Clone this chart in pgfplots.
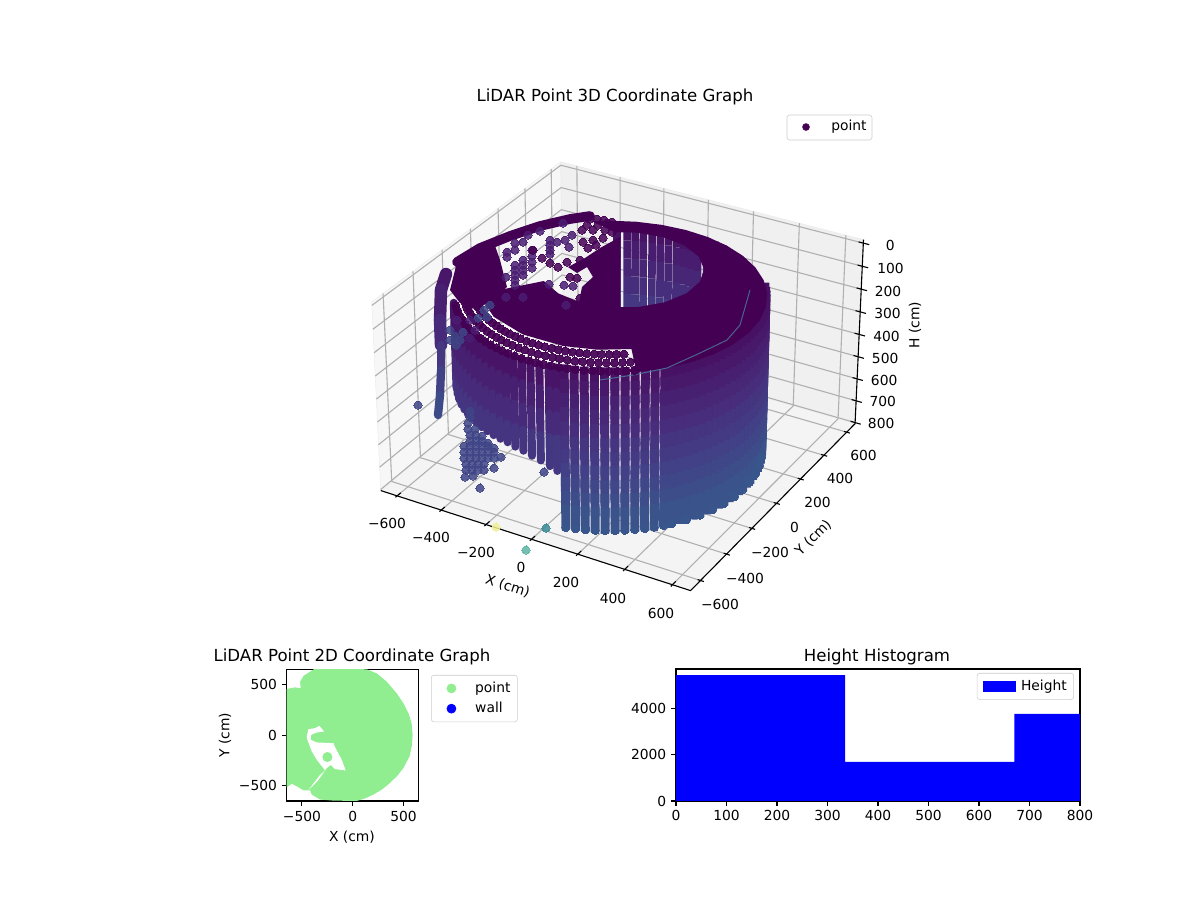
\documentclass[border=0pt]{standalone}
\usepackage{fontspec}
\setmainfont{DejaVu Sans}
\usepackage{pgfplots}
\pgfplotsset{compat=1.18}
\definecolor{dk}{HTML}{440154}
\definecolor{dk2}{HTML}{4A1D72}
\definecolor{mid}{HTML}{3F4586}
\definecolor{btm}{HTML}{39568C}
\definecolor{lg}{HTML}{90EE90}
\definecolor{yel}{HTML}{F0F09A}
\definecolor{tl1}{HTML}{5DB5A5}
\definecolor{tl2}{HTML}{3A8A96}
\definecolor{lb}{HTML}{4C7FA0}
\pgfplotsset{
 table/xyz/.style={row sep=crcr,x expr={prjx(\thisrow{X},\thisrow{Y},\thisrow{H})},y expr={prjy(\thisrow{X},\thisrow{Y},\thisrow{H})}},
 table/pol/.style={row sep=crcr,x expr={prjx(-55+\thisrow{r}*cos(\thisrow{t}),\thisrow{r}*sin(\thisrow{t}),\thisrow{H})},y expr={prjy(-55+\thisrow{r}*cos(\thisrow{t}),\thisrow{r}*sin(\thisrow{t}),\thisrow{H})}},
 table/polc/.style={row sep=crcr,x expr={prjx(\thisrow{c}+\thisrow{r}*cos(\thisrow{t}),\thisrow{r}*sin(\thisrow{t}),\thisrow{H})},y expr={prjy(\thisrow{c}+\thisrow{r}*cos(\thisrow{t}),\thisrow{r}*sin(\thisrow{t}),\thisrow{H})}},
 wc/.style={mesh,forget plot,line width=6.5pt,line cap=rect,point meta=\thisrow{H}},
 sc/.style={mesh,forget plot,line width=5.8pt,line cap=round,point meta=\thisrow{H}},
 bc/.style={mesh,forget plot,line width=5.5pt,line cap=butt,point meta=\thisrow{H}},
 gl/.style={forget plot,color=black!31,line width=0.8pt},
 ax/.style={forget plot,color=black,line width=0.8pt},
 m2/.style={tick align=outside,tick pos=left,major tick length=3.5pt,every tick/.style={black,line width=0.8pt},axis line style={line width=0.8pt},scale only axis,enlargelimits=false,
   legend style={draw=black!20,rounded corners=2pt,font=\fontsize{10}{12}\selectfont,inner xsep=3pt,inner ysep=3pt},legend cell align=left},
}
\newcommand{\W}[1]{\addplot[wc] table[pol]{t r H\\ #1 590 100\\ #1 590 160\\ #1 590 220\\ #1 590 280\\ #1 590 340\\ #1 590 400\\ #1 590 460\\ #1 590 520\\ #1 590 580\\ #1 590 640\\ #1 590 700\\ #1 590 770\\};}
\newcommand{\Sh}[2]{\addplot[sc] table[pol]{t r H\\ #1 590 100\\ #1 590 200\\ #1 590 300\\ #1 590 400\\ #1 590 #2\\};}
\newcommand{\Bk}[1]{\addplot[bc] table[pol]{t r H\\ #1 590 100\\ #1 590 180\\ #1 590 260\\ #1 590 340\\ #1 590 420\\ #1 590 500\\ #1 590 580\\};}
\newcommand{\GL}[2]{\addplot[#1] table[xyz]{X Y H\\ #2};}
\newcommand{\Beads}[2]{\addplot[only marks,forget plot,mark=*,mark size=2.9pt,mark options={draw=#1,line width=0pt,fill=#1,opacity=0.85}] table[row sep=crcr]{x y\\ #2};}
\newcommand{\Tl}[3]{\node[anchor=center] at (axis cs:#1,#2) {#3};}
\newcommand{\Tz}[3]{\node[anchor=west,inner sep=0pt] at (axis cs:#1,#2) {#3};}
\begin{document}
\begin{tikzpicture}
\path[use as bounding box] (0,0) rectangle (12in,9in);
\begin{axis}[at={(0,0)},anchor=south west,scale only axis,width=12in,height=9in,hide axis,clip=false,
 xmin=0,xmax=1200,ymin=0,ymax=900,y dir=reverse,enlargelimits=false,
 colormap/viridis,point meta min=0,point meta max=2900,
 declare function={
  pA(\x)=(\x)*0.000882;
  pC(\z)=(0.5-(\z+15)/820)*0.725;
  pD(\x,\y,\z)=10-(0.433*pA(\x)-0.75*pA(\y)+0.5*pC(\z));
  prjx(\x,\y,\z)=622.3+2968*(0.866*pA(\x)+0.5*pA(\y))/pD(\x,\y,\z);
  prjy(\x,\y,\z)=365-2967*(-0.25*pA(\x)+0.433*pA(\y)+0.866*pC(\z))/pD(\x,\y,\z);
 },
]
% panes
\addplot[forget plot,fill=black!3,draw=black!7] table[xyz]{X Y H\\ -675 -675 805\\ -675 675 805\\ -675 675 -15\\ -675 -675 -15\\} -- cycle;
\addplot[forget plot,fill=black!6,draw=black!7] table[xyz]{X Y H\\ -675 675 805\\ 675 675 805\\ 675 675 -15\\ -675 675 -15\\} -- cycle;
\addplot[forget plot,fill=black!4.5,draw=black!7] table[xyz]{X Y H\\ -675 -675 805\\ 675 -675 805\\ 675 675 805\\ -675 675 805\\} -- cycle;
% grid
\GL{gl}{-600 -675 805\\ -600 675 805\\ -600 675 -15\\}
\GL{gl}{-400 -675 805\\ -400 675 805\\ -400 675 -15\\}
\GL{gl}{-200 -675 805\\ -200 675 805\\ -200 675 -15\\}
\GL{gl}{0 -675 805\\ 0 675 805\\ 0 675 -15\\}
\GL{gl}{200 -675 805\\ 200 675 805\\ 200 675 -15\\}
\GL{gl}{400 -675 805\\ 400 675 805\\ 400 675 -15\\}
\GL{gl}{600 -675 805\\ 600 675 805\\ 600 675 -15\\}
\GL{gl}{675 -600 805\\ -675 -600 805\\ -675 -600 -15\\}
\GL{gl}{675 -400 805\\ -675 -400 805\\ -675 -400 -15\\}
\GL{gl}{675 -200 805\\ -675 -200 805\\ -675 -200 -15\\}
\GL{gl}{675 0 805\\ -675 0 805\\ -675 0 -15\\}
\GL{gl}{675 200 805\\ -675 200 805\\ -675 200 -15\\}
\GL{gl}{675 400 805\\ -675 400 805\\ -675 400 -15\\}
\GL{gl}{675 600 805\\ -675 600 805\\ -675 600 -15\\}
\GL{gl}{-675 -675 0\\ -675 675 0\\ 675 675 0\\}
\GL{gl}{-675 -675 100\\ -675 675 100\\ 675 675 100\\}
\GL{gl}{-675 -675 200\\ -675 675 200\\ 675 675 200\\}
\GL{gl}{-675 -675 300\\ -675 675 300\\ 675 675 300\\}
\GL{gl}{-675 -675 400\\ -675 675 400\\ 675 675 400\\}
\GL{gl}{-675 -675 500\\ -675 675 500\\ 675 675 500\\}
\GL{gl}{-675 -675 600\\ -675 675 600\\ 675 675 600\\}
\GL{gl}{-675 -675 700\\ -675 675 700\\ 675 675 700\\}
\GL{gl}{-675 -675 800\\ -675 675 800\\ 675 675 800\\}
% axis lines and ticks
\GL{ax}{-675 -675 805\\ 675 -675 805\\ 675 675 805\\ 675 675 -15\\}
\GL{ax}{-600 -687 805\\ -600 -650 805\\}
\GL{ax}{-400 -687 805\\ -400 -650 805\\}
\GL{ax}{-200 -687 805\\ -200 -650 805\\}
\GL{ax}{0 -687 805\\ 0 -650 805\\}
\GL{ax}{200 -687 805\\ 200 -650 805\\}
\GL{ax}{400 -687 805\\ 400 -650 805\\}
\GL{ax}{600 -687 805\\ 600 -650 805\\}
\GL{ax}{663 -600 805\\ 689 -600 805\\}
\GL{ax}{663 -400 805\\ 689 -400 805\\}
\GL{ax}{663 -200 805\\ 689 -200 805\\}
\GL{ax}{663 0 805\\ 689 0 805\\}
\GL{ax}{663 200 805\\ 689 200 805\\}
\GL{ax}{663 400 805\\ 689 400 805\\}
\GL{ax}{663 600 805\\ 689 600 805\\}
\GL{ax}{655 675 0\\ 700 675 0\\}
\GL{ax}{655 675 100\\ 700 675 100\\}
\GL{ax}{655 675 200\\ 700 675 200\\}
\GL{ax}{655 675 300\\ 700 675 300\\}
\GL{ax}{655 675 400\\ 700 675 400\\}
\GL{ax}{655 675 500\\ 700 675 500\\}
\GL{ax}{655 675 600\\ 700 675 600\\}
\GL{ax}{655 675 700\\ 700 675 700\\}
\GL{ax}{655 675 800\\ 700 675 800\\}
% outlying points
\Beads{yel}{496 527\\}
\Beads{tl1}{526 550\\}
\Beads{tl2}{546 528\\}
\Beads{mid}{418 405\\ 480 488\\ 544 472\\ 465 477\\ 473 476\\}
% back wall through the hole
\Bk{72}\Bk{76}\Bk{80}\Bk{84.3}\Bk{87.5}\Bk{90.7}\Bk{93.7}\Bk{97.1}\Bk{100.4}\Bk{103.7}\Bk{107.2}\Bk{110.4}\Bk{113.5}\Bk{117.4}
% cluster on the floor
\Beads{mid}{470 411\\ 470 417\\ 468 423\\ 468 429\\ 475 429\\ 470 435\\ 476 435\\ 482 436\\ 470 441\\ 476 441\\ 482 441\\ 488 443\\ 464 446\\ 470 446\\ 476 446\\ 482 446\\ 488 446\\ 494 448\\ 464 452\\ 470 452\\ 476 452\\ 482 452\\ 488 452\\ 494 452\\ 501 457\\ 464 458\\ 470 458\\ 476 458\\ 482 458\\ 488 458\\ 494 458\\ 466 464\\ 472 464\\ 478 464\\ 484 464\\ 494 468\\ 466 470\\ 472 470\\ 478 470\\ 484 470\\}
% left fragment
\addplot[mesh,forget plot,line width=9pt,line cap=round,point meta=\thisrow{H}] table[row sep=crcr]{x y H\\ 446 274 150\\ 441 290 200\\ 440 320 300\\ 441 345 400\\};
\addplot[mesh,forget plot,line width=6pt,line cap=round,point meta=\thisrow{H}] table[row sep=crcr]{x y H\\ 441 345 400\\ 441 370 520\\ 440 395 620\\ 438 415 680\\};
% wall: short columns on the left front
\Sh{-143}{470}\Sh{-139.4}{475}\Sh{-135.8}{478}\Sh{-132.2}{480}\Sh{-128.6}{480}\Sh{-125}{480}\Sh{-121.4}{480}\Sh{-117.8}{480}\Sh{-114.2}{480}\Sh{-110.6}{480}\Sh{-107}{480}\Sh{-103.4}{480}\Sh{-99.8}{480}\Sh{-96.2}{485}\Sh{-92.6}{490}\Sh{-89}{500}\Sh{-85.4}{510}\Sh{-81.8}{525}\Sh{-79}{540}
% wall: full columns, back to front
\W{35}\W{32}\W{29}\W{26}\W{23}\W{20}\W{17}\W{14}\W{11}\W{8}\W{5}\W{2}\W{-1}\W{-4}\W{-7}\W{-10}\W{-13}\W{-16}\W{-19}\W{-22}\W{-25}\W{-28}\W{-31}\W{-34}\W{-37}\W{-40}\W{-43.6}\W{-47.2}\W{-50.8}\W{-54.4}\W{-58}\W{-61.6}\W{-65.2}\W{-68.8}\W{-72.4}\W{-76}
\addplot[only marks,forget plot,mark=*,mark size=2.9pt,mark options={draw=btm,line width=0pt,fill=btm}] table[pol]{t r H\\ 23 590 782\\ 17 590 782\\ 11 590 782\\ 5 590 782\\ -1 590 782\\ -7 590 782\\ -13 590 782\\ -19 590 782\\ -25 590 782\\ -31 590 782\\ -37 590 782\\ -40 590 782\\ -43.6 590 782\\ -47.2 590 782\\ -50.8 590 782\\ -54.4 590 782\\ -58 590 782\\ -61.6 590 782\\ -65.2 590 782\\ -68.8 590 782\\ -72.4 590 782\\ -76 590 782\\};
% top cone
\addplot[forget plot,fill=dk,draw=dk,line width=2pt] table[polc]{t r H c\\
-50 590 100 -55\\ -40 590 100 -55\\ -30 590 100 -55\\ -20 590 100 -55\\ -10 590 100 -55\\ 0 590 100 -55\\ 10 590 100 -55\\ 20 590 100 -55\\ 30 590 100 -55\\ 40 590 100 -55\\ 50 590 100 -55\\ 60 590 100 -55\\ 70 590 100 -55\\ 80 590 100 -55\\ 90 590 100 -55\\ 100 590 100 -55\\ 110 590 100 -55\\ 120 590 100 -55\\ 125 590 100 -55\\
125 312 -20 0\\ 110 312 -20 0\\ 90 312 -20 0\\ 70 312 -20 0\\ 50 312 -20 0\\ 30 312 -20 0\\ 10 312 -20 0\\ -10 312 -20 0\\ -30 312 -20 0\\ -50 312 -20 0\\ -70 312 -20 0\\ -90 312 -20 0\\ -110 312 -20 0\\ -130 312 -20 0\\
-140 490 60 -55\\ -120 490 60 -55\\ -100 490 60 -55\\ -80 490 60 -55\\ -65 490 60 -55\\ -50 490 60 -55\\} -- cycle;
% bead rings on the cone, left front
\addplot[only marks,forget plot,mark=*,mark size=2.9pt,mark options={draw=dk,line width=0pt,fill=dk,opacity=0.92}] table[pol]{t r H\\
-141 585 100\\ -138 585 100\\ -135 585 100\\ -132 585 100\\ -129 585 100\\ -126 585 100\\ -123 585 100\\ -120 585 100\\ -117 585 100\\ -114 585 100\\ -111 585 100\\ -108 585 100\\ -105 585 100\\ -102 585 100\\ -99 585 100\\ -96 585 100\\ -93 585 100\\ -90 585 100\\ -87 585 100\\ -84 585 100\\ -81 585 100\\ -78 585 100\\ -75 585 100\\ -72 585 100\\ -69 585 100\\ -66 585 100\\ -63 585 100\\ -60 585 100\\ -57 585 100\\ -54 585 100\\ -51 585 100\\
-139 550 85\\ -136 550 85\\ -133 550 85\\ -130 550 85\\ -127 550 85\\ -124 550 85\\ -121 550 85\\ -118 550 85\\ -115 550 85\\ -112 550 85\\ -109 550 85\\ -106 550 85\\ -103 550 85\\ -100 550 85\\ -97 550 85\\ -94 550 85\\ -91 550 85\\ -88 550 85\\ -85 550 85\\ -82 550 85\\ -79 550 85\\ -76 550 85\\ -73 550 85\\ -70 550 85\\ -67 550 85\\ -64 550 85\\ -61 550 85\\ -58 550 85\\ -55 550 85\\ -52 550 85\\
-141 515 70\\ -138 515 70\\ -135 515 70\\ -132 515 70\\ -129 515 70\\ -126 515 70\\ -123 515 70\\ -120 515 70\\ -117 515 70\\ -114 515 70\\ -111 515 70\\ -108 515 70\\ -105 515 70\\ -102 515 70\\ -99 515 70\\ -96 515 70\\ -93 515 70\\ -90 515 70\\ -87 515 70\\ -84 515 70\\ -81 515 70\\ -78 515 70\\ -75 515 70\\ -72 515 70\\ -69 515 70\\ -66 515 70\\ -63 515 70\\ -60 515 70\\ -57 515 70\\ -54 515 70\\};
% light thin trace on the cone
\addplot[forget plot,color=lb,line width=0.7pt,opacity=0.8] table[row sep=crcr]{x y\\ 600 380\\ 633 375\\ 667 368\\ 700 353\\ 727 340\\ 740 325\\ 750 290\\};
% dark rim and patches at the back left
\addplot[forget plot,color=dk,line width=7pt,line cap=round] table[row sep=crcr]{x y\\ 457 262\\ 480 248\\ 510 236\\ 540 226\\ 570 219\\ 590 216\\};
\addplot[forget plot,fill=dk,draw=none] table[row sep=crcr]{x y\\ 457 260\\ 493 240\\ 500 260\\ 507 287\\ 495 297\\ 477 310\\ 460 303\\ 450 290\\ 455 270\\} -- cycle;
\addplot[forget plot,fill=dk,draw=none] table[row sep=crcr]{x y\\ 620 237\\ 620 312\\ 577 312\\ 582 287\\ 593 277\\ 587 267\\ 577 273\\ 568 267\\ 585 258\\ 600 248\\} -- cycle;
\Beads{dk2}{515 265\\ 515 270\\ 515 275\\ 515 280\\ 515 285\\ 523 260\\ 523 265\\ 523 270\\ 523 275\\ 532 250\\ 532 256\\ 532 262\\ 532 268\\ 550 240\\ 550 245\\ 550 250\\ 550 254\\ 507 252\\ 507 257\\ 515 243\\ 515 250\\ 523 242\\ 549 284\\ 564 285\\ 573 286\\ 566 305\\ 506 277\\ 506 297\\ 523 297\\ 563 223\\ 557 242\\ 565 240\\ 572 235\\ 569 247\\ 540 231\\ 528 235\\}
\Beads{dk}{533 250\\ 542 258\\ 550 263\\ 558 267\\ 567 262\\ 580 260\\ 570 277\\ 577 278\\ 580 298\\ 587 225\\ 593 230\\ 582 230\\ 583 242\\ 593 240\\ 603 238\\ 588 248\\ 597 260\\ 605 230\\ 607 223\\ 598 225\\ 596 245\\ 600 267\\ 612 222\\ 604 220\\ 590 219\\ 597 219\\ 612 232\\}
\Beads{mid}{450 330\\ 455 336\\ 460 340\\ 450 340\\ 456 345\\ 463 332\\ 484 310\\ 490 305\\ 478 318\\ 487 317\\}
\Beads{dk2}{457 320\\ 475 330\\ 470 338\\ 470 320\\}
% legend of the 3D chart
\node[draw=black!20,rounded corners=2pt,fill=white,minimum width=0.85in,minimum height=0.25in,inner sep=0pt] at (axis cs:829.5,127.5) {};
\addplot[only marks,forget plot,mark=*,mark size=2.5pt,mark options={draw=dk,fill=dk}] coordinates {(806,127)};
\node[anchor=west,inner sep=0pt] at (axis cs:831,126.5) {point};
% texts
\node at (axis cs:615,96.5) {\fontsize{12}{14}\selectfont LiDAR Point 3D Coordinate Graph};
\node at (axis cs:352,656.5) {\fontsize{12}{14}\selectfont LiDAR Point 2D Coordinate Graph};
\node at (axis cs:877,656.5) {\fontsize{12}{14}\selectfont Height Histogram};
\Tl{387}{523}{−600}\Tl{431}{537.5}{−400}\Tl{476}{552.5}{−200}\Tl{521}{567.5}{0}\Tl{566}{582.5}{200}\Tl{613}{598.5}{400}\Tl{661}{613.5}{600}
\Tl{720}{604.5}{−600}\Tl{745}{578.5}{−400}\Tl{770}{552}{−200}\Tl{794.5}{527}{0}\Tl{817.5}{502.5}{200}\Tl{840}{478.5}{400}\Tl{863.5}{455}{600}
\Tz{885.5}{245}{0}\Tz{877}{268}{100}\Tz{874.5}{291}{200}\Tz{874}{313}{300}\Tz{873}{336}{400}\Tz{871.7}{358}{500}\Tz{870.7}{380}{600}\Tz{869.3}{401}{700}\Tz{867.7}{423}{800}
\node[rotate=-18] at (axis cs:507.7,586) {X (cm)};
\node[rotate=45] at (axis cs:813.3,538) {Y (cm)};
\node[rotate=90] at (axis cs:915,325) {H (cm)};
\node at (axis cs:352,837) {X (cm)};
\node[rotate=90] at (axis cs:225,735) {Y (cm)};
\end{axis}
% 2D chart
\begin{axis}[m2,at={(2.867in,0.99in)},anchor=south west,width=1.316in,height=1.317in,
 xmin=-650,xmax=646,ymin=-650,ymax=650,
 xtick={-500,0,500},xticklabels={−500,0,500},ytick={-500,0,500},yticklabels={−500,0,500},
 legend style={at={(1.0965,0.957)},anchor=north west,row sep=1.5pt}]
\addlegendimage{legend image code/.code={\path[draw=none] (0,0) -- (0.37in,0); \fill[lg,sharp corners] (0.16in,0) circle (3.3pt);}}
\addlegendentry{point}
\addlegendimage{legend image code/.code={\path[draw=none] (0,0) -- (0.37in,0); \fill[blue,sharp corners] (0.16in,0) circle (3.3pt);}}
\addlegendentry{wall}
\addplot[forget plot,fill=lg,draw=none] coordinates {(-370,659)(138,650)(236,610)(335,528)(433,413)(499,315)(550,215)(580,118)(590,0)(583,-100)(560,-210)(499,-325)(440,-400)(367,-472)(290,-535)(203,-587)(120,-625)(39,-650)(-190,-646)(-321,-636)(-403,-587)(-420,-544)(-485,-544)(-551,-505)(-600,-479)(-643,-512)(-682,-522)(-682,446)(-633,459)(-567,472)(-512,462)(-518,528)(-485,584)} -- cycle;
\addplot[forget plot,fill=white,draw=none] coordinates {(-453,-13)(-436,59)(-371,69)(-328,92)(-282,36)(-354,26)(-410,3)(-413,-46)(-354,-72)(-190,-79)(-174,-118)(-108,-243)(-69,-348)(-174,-335)(-216,-295)(-256,-325)(-272,-348)(-354,-243)(-403,-161)(-446,-46)} -- cycle;
\addplot[forget plot,fill=white,draw=none] coordinates {(-272,-348)(-348,-456)(-436,-544)(-420,-522)(-328,-400)} -- cycle;
\addplot[forget plot,only marks,mark=*,mark size=3.4pt,color=lg] coordinates {(-249,-216)};
\end{axis}
% histogram
\begin{axis}[m2,at={(6.76in,0.99in)},anchor=south west,width=4.04in,height=1.32in,
 xmin=0,xmax=800,ymin=0,ymax=5690,
 xtick={0,100,200,300,400,500,600,700,800},xticklabels={0,100,200,300,400,500,600,700,800},ytick={0,2000,4000},yticklabels={0,2000,4000},
 legend style={at={(0.985,0.97)},anchor=north east}]
\addlegendimage{legend image code/.code={\path[draw=none] (-0.02in,0) -- (0.35in,0); \fill[blue,sharp corners] (0,-0.048in) rectangle (0.32in,0.048in);}}
\addlegendentry{Height}
\addplot[ybar interval,forget plot,fill=blue,draw=none] coordinates {(0,5430)(335,1690)(670,3750)(1005,0)};
\end{axis}
\end{tikzpicture}
\end{document}
